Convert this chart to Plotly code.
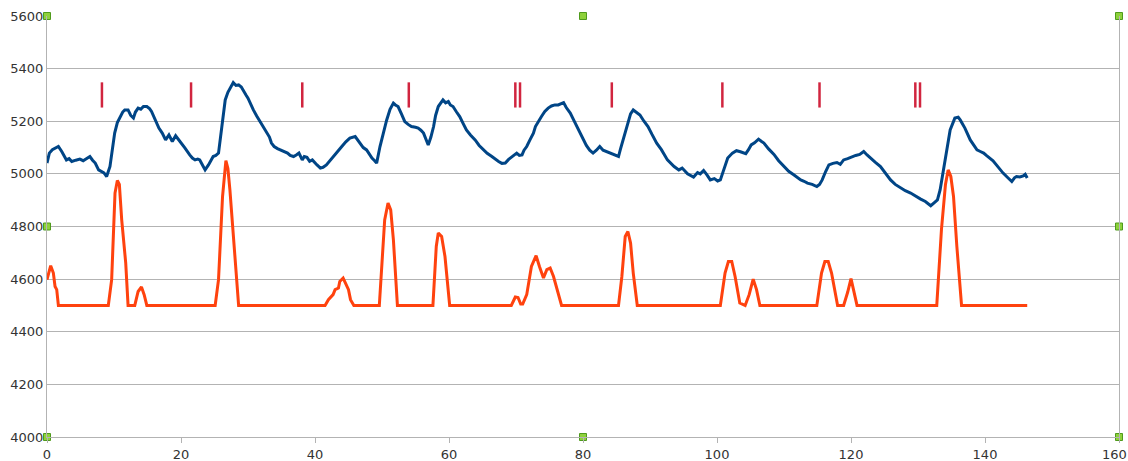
import plotly.graph_objects as go

# ---- data ----
blue_x = [
    0.0, 0.35, 0.8, 1.2, 1.7, 2.2, 2.6, 2.9, 3.3, 3.7,
    4.3, 4.9, 5.4, 5.9, 6.4, 6.8, 7.2, 7.7, 8.2, 8.5,
    8.7, 8.9, 9.4, 10.1, 10.5, 10.9, 11.3, 11.6, 12.1, 12.5,
    12.9, 13.2, 13.6, 14.0, 14.4, 14.9, 15.3, 15.6, 16.2, 16.7,
    17.2, 17.7, 18.2, 18.7, 19.2, 19.7, 20.1, 20.6, 21.3, 21.7,
    22.1, 22.5, 22.8, 23.2, 23.6, 24.1, 24.5, 24.8, 25.2, 25.6,
    26.1, 26.6, 27.0, 27.3, 27.8, 28.2, 28.6, 29.0, 29.3, 29.7,
    30.0, 30.4, 30.8, 31.3, 31.8, 32.3, 32.8, 33.2, 33.5, 33.9,
    34.4, 34.9, 35.4, 35.9, 36.3, 36.8, 37.2, 37.6, 38.1, 38.4,
    38.8, 39.2, 39.6, 40.0, 40.3, 40.8, 41.2, 41.7, 42.2, 42.7,
    43.3, 44.0, 44.6, 45.2, 46.0, 46.7, 47.2, 47.7, 48.1, 48.5,
    48.9, 49.2, 49.7, 50.2, 50.7, 51.2, 51.7, 52.0, 52.4, 52.9,
    53.4, 53.9, 54.4, 55.0, 55.4, 55.8, 56.2, 56.9, 57.3, 57.7,
    58.0, 58.4, 58.8, 59.1, 59.5, 59.9, 60.2, 60.6, 61.1, 61.6,
    62.1, 62.6, 63.2, 63.9, 64.5, 65.1, 65.7, 66.4, 66.9, 67.4,
    67.9, 68.4, 68.9, 69.4, 69.8, 70.1, 70.5, 70.9, 71.2, 71.6,
    72.1, 72.6, 72.9, 73.3, 73.8, 74.3, 74.8, 75.3, 75.8, 76.3,
    76.7, 77.1, 77.5, 78.1, 78.6, 79.1, 79.6, 80.0, 80.5, 81.0,
    81.5, 82.0, 82.5, 83.0, 83.5, 84.2, 84.8, 85.3, 85.6, 86.0,
    86.4, 86.8, 87.1, 87.5, 88.0, 88.5, 89.1, 89.7, 90.3, 91.0,
    91.7, 92.6, 93.6, 94.3, 94.8, 95.6, 96.5, 97.1, 97.5, 98.0,
    98.5, 99.0, 99.6, 100.1, 100.5, 101.0, 101.6, 102.3, 102.9, 103.5,
    104.3, 104.7, 105.1, 105.6, 106.2, 106.6, 107.0, 107.7, 108.5, 109.2,
    110.0, 110.7, 111.5, 112.0, 112.5, 113.0, 113.5, 114.2, 114.9, 115.3,
    115.7, 116.2, 116.7, 117.3, 117.9, 118.4, 118.9, 119.5, 120.2, 120.7,
    121.3, 121.9, 122.4, 122.9, 123.6, 124.4, 125.1, 125.9, 126.6, 127.4,
    128.1, 128.9, 129.6, 130.4, 131.1, 131.9, 132.4, 132.9, 133.3, 134.0,
    134.8, 135.5, 136.0, 136.3, 137.0, 137.8, 138.3, 138.8, 139.3, 139.8,
    140.2, 140.7, 141.2, 141.7, 142.2, 142.7, 143.3, 144.0, 144.4, 144.7,
    145.2, 145.7, 146.0, 146.3]
blue_y = [
    5041, 5079, 5092, 5098, 5104, 5085, 5068, 5053, 5058, 5047,
    5052, 5056, 5050, 5058, 5066, 5052, 5041, 5015, 5010, 5004,
    4997, 4990, 5028, 5155, 5195, 5218, 5235, 5243, 5243, 5222,
    5212, 5235, 5250, 5246, 5256, 5256, 5248, 5237, 5205, 5174,
    5155, 5129, 5148, 5123, 5145, 5129, 5117, 5098, 5072, 5060,
    5053, 5056, 5053, 5036, 5015, 5034, 5052, 5066, 5070, 5079,
    5180, 5281, 5310, 5325, 5347, 5336, 5338, 5330, 5319, 5300,
    5288, 5262, 5243, 5220, 5199, 5182, 5161, 5140, 5117, 5104,
    5096, 5091, 5084, 5079, 5070, 5066, 5072, 5079, 5053, 5066,
    5063, 5048, 5053, 5040, 5034, 5022, 5025, 5034, 5050, 5066,
    5082, 5104, 5122, 5136, 5142, 5117, 5100, 5091, 5075, 5060,
    5050, 5041, 5104, 5160, 5205, 5245, 5269, 5262, 5256, 5228,
    5199, 5188, 5180, 5177, 5174, 5166, 5155, 5110, 5140, 5180,
    5222, 5256, 5270, 5281, 5270, 5275, 5262, 5256, 5236, 5218,
    5192, 5167, 5148, 5129, 5108, 5091, 5078, 5066, 5055, 5047,
    5040, 5041, 5055, 5066, 5074, 5079, 5070, 5072, 5090, 5104,
    5130, 5155, 5180, 5199, 5218, 5237, 5250, 5258, 5262, 5262,
    5268, 5271, 5252, 5231, 5205, 5180, 5150, 5129, 5108, 5090,
    5079, 5090, 5104, 5090, 5085, 5080, 5072, 5066, 5095, 5129,
    5170, 5205, 5228, 5243, 5232, 5224, 5200, 5180, 5150, 5117,
    5092, 5053, 5028, 5015, 5022, 5000, 4988, 5005, 5000, 5013,
    4996, 4977, 4982, 4973, 4977, 5015, 5060, 5079, 5088, 5084,
    5077, 5092, 5110, 5118, 5132, 5124, 5117, 5095, 5074, 5050,
    5028, 5010, 4996, 4985, 4977, 4972, 4965, 4960, 4952, 4960,
    4977, 5008, 5034, 5040, 5043, 5036, 5053, 5058, 5066, 5070,
    5074, 5085, 5072, 5060, 5045, 5028, 5002, 4977, 4960, 4946,
    4936, 4927, 4915, 4904, 4895, 4879, 4890, 4901, 4939, 5053,
    5167, 5212, 5215, 5205, 5174, 5129, 5108, 5091, 5085, 5079,
    5070, 5060, 5050, 5034, 5018, 5003, 4988, 4971, 4985, 4990,
    4988, 4992, 4998, 4984]

orange_x = [0.0, 0.55, 0.95, 1.2, 1.45, 1.7, 9.15, 9.65, 10.15, 10.5, 10.8, 11.15, 11.75, 12.1, 13.1, 13.6, 14.1,
            14.5, 14.9, 25.1, 25.6, 26.2, 26.7, 27.0, 27.3, 28.1, 28.6, 41.5, 42.0, 42.7, 43.0, 43.5, 43.7, 44.2,
            44.6, 45.0, 45.3, 45.8, 49.6, 50.4, 50.9, 51.3, 51.7, 52.3, 57.6, 58.1, 58.4, 58.9, 59.4, 60.1, 69.3,
            69.9, 70.3, 70.7, 71.0, 71.6, 72.3, 73.0, 73.5, 74.1, 74.6, 75.1, 75.6, 76.3, 76.8, 85.3, 85.8, 86.3,
            86.7, 87.1, 87.5, 88.1, 100.5, 101.2, 101.7, 102.2, 102.7, 103.4, 104.2, 104.8, 105.4, 105.9, 106.4,
            114.9, 115.6, 116.1, 116.6, 117.1, 118.0, 118.9, 119.5, 120.0, 120.4, 120.9, 132.8, 133.5, 134.1,
            134.5, 134.9, 135.3, 135.8, 136.5, 146.3]
orange_y = [4598, 4651, 4623, 4572, 4560, 4500, 4500, 4598, 4927, 4975, 4960, 4825, 4661, 4500, 4500, 4553, 4570,
            4541, 4500, 4500, 4598, 4914, 5050, 5020, 4939, 4648, 4500, 4500, 4522, 4541, 4560, 4566, 4591, 4604,
            4585, 4560, 4522, 4500, 4500, 4825, 4889, 4863, 4750, 4500, 4500, 4724, 4775, 4762, 4686, 4500, 4500,
            4532, 4530, 4505, 4505, 4541, 4648, 4689, 4648, 4604, 4636, 4642, 4610, 4547, 4500, 4500, 4610, 4762,
            4781, 4737, 4623, 4500, 4500, 4623, 4667, 4667, 4610, 4509, 4500, 4541, 4600, 4560, 4500,
            4500, 4623, 4667, 4667, 4623, 4500, 4500, 4550, 4602, 4560, 4500, 4500, 4788, 4960,
            5015, 4990, 4914, 4724, 4500, 4500]

mark_x = [8.2, 21.5, 38.1, 54.0, 69.9, 70.6, 84.3, 100.8, 115.3, 129.6, 130.3]
mark_y = [5300] * len(mark_x)

handle_x = [0, 80, 160, 0, 160, 0, 80, 160]
handle_y = [5600, 5600, 5600, 4800, 4800, 4000, 4000, 4000]

x_ticks = [0, 20, 40, 60, 80, 100, 120, 140, 160]
y_ticks = [4000, 4200, 4400, 4600, 4800, 5000, 5200, 5400, 5600]

fig = go.Figure()
fig.add_trace(go.Scatter(x=orange_x, y=orange_y, mode="lines",
                         line=dict(color="#ff420e", width=3), hoverinfo="skip"))
fig.add_trace(go.Scatter(x=blue_x, y=blue_y, mode="lines",
                         line=dict(color="#004586", width=3), hoverinfo="skip"))
fig.add_trace(go.Scatter(x=mark_x, y=mark_y, mode="markers",
                         marker=dict(symbol="line-ns", size=18,
                                     line=dict(color="#d1253f", width=2.5)),
                         hoverinfo="skip"))
fig.add_trace(go.Scatter(x=handle_x, y=handle_y, mode="markers", cliponaxis=False,
                         marker=dict(symbol="square", size=7, color="#8ed13b",
                                     line=dict(color="#4f9a1c", width=1)),
                         hoverinfo="skip"))

font = dict(family="DejaVu Sans", size=13, color="#333333")

# last x label sits on the window edge; draw it as an annotation nudged inwards
x_text = [str(v) for v in x_ticks]
last_label = x_text[-1]
x_text[-1] = ""
fig.add_annotation(x=x_ticks[-1], xref="x", y=0, yref="paper", text=last_label,
                   showarrow=False, xanchor="center", yanchor="middle",
                   xshift=-5, yshift=-17, font=font)

fig.update_layout(
    width=1128, height=461,
    margin=dict(l=47, r=9, t=16, b=24, autoexpand=False),
    paper_bgcolor="white", plot_bgcolor="white",
    showlegend=False,
    xaxis=dict(range=[0, 160], tickvals=x_ticks, ticktext=x_text,
               showgrid=False, zeroline=False, showline=True, linecolor="#b3b3b3",
               linewidth=1, ticks="outside", ticklen=5, tickcolor="#b3b3b3",
               tickfont=font, fixedrange=True),
    yaxis=dict(range=[4000, 5600], tickvals=y_ticks, ticktext=[str(v) for v in y_ticks],
               showgrid=True, gridcolor="#b3b3b3", gridwidth=1, zeroline=False,
               showline=True, linecolor="#b3b3b3", linewidth=1, mirror=True,
               ticks="", ticklabelstandoff=0, tickfont=font, ticklabeloverflow="allow",
               fixedrange=True),
)

fig.write_html("out.html", config={"displayModeBar": False})

# remove the default page margin so the figure sits at the window origin
with open("out.html", "r", encoding="utf-8") as f:
    html = f.read()
html = html.replace("<body>", '<body style="margin:0;padding:0;overflow:hidden">', 1)
with open("out.html", "w", encoding="utf-8") as f:
    f.write(html)
